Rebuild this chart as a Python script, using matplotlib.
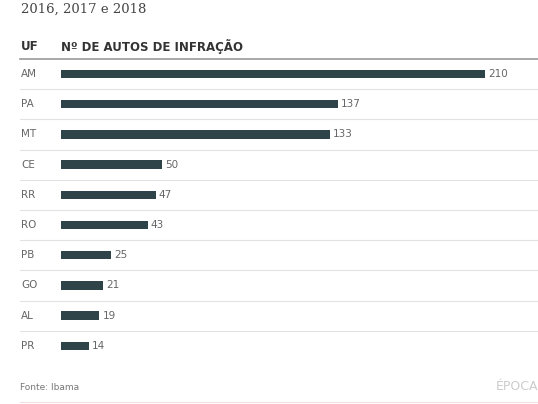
import matplotlib.pyplot as plt
from matplotlib import transforms

# dados
estados = ['AM', 'PA', 'MT', 'CE', 'RR', 'RO', 'PB', 'GO', 'AL', 'PR']
autos = [210, 137, 133, 50, 47, 43, 25, 21, 19, 14]

titulo = '2016, 2017 e 2018'
cab_uf = 'UF'
cab_valor = 'Nº DE AUTOS DE INFRAÇÃO'
fonte = 'Fonte: Ibama'
marca = 'ÉPOCA'

W, H = 538, 404
fig = plt.figure(figsize=(W / 100, H / 100), dpi=100)
ax = fig.add_axes([0, 0, 1, 1])

# escala: 1 auto = px_por_unidade pixels, barras começam em x=61px
px_por_unidade = 2.019
x0_px = 61
linha0_px, passo_px = 74, 30.2
ax.set_xlim(-x0_px / px_por_unidade, (W - x0_px) / px_por_unidade)
ax.set_ylim((H - linha0_px) / passo_px, -linha0_px / passo_px)
ax.axis('off')

cor_barra = '#2e4449'
cor_texto = '#666666'
pos = list(range(len(estados)))

ax.barh(pos, autos, height=0.28, color=cor_barra, left=0)
for i, v in zip(pos, autos):
    ax.text(v + 1.5, i, str(v), va='center', ha='left', fontsize=7.5, color=cor_texto)

mix = transforms.blended_transform_factory(fig.transFigure, ax.transData)
for i, uf in zip(pos, estados):
    ax.text(21 / W, i, uf, transform=mix, va='center', ha='left', fontsize=7.5, color=cor_texto)

# linhas separadoras
for i in pos[:-1]:
    ax.plot([20 / W, 1], [i + 0.5, i + 0.5], transform=mix, color='#e2e2e2', lw=0.8)

# cabeçalho
fig.text(21 / W, 1 - 9 / H, titulo, fontsize=9.5, family='DejaVu Serif', color='#444444', va='center')
fig.text(21 / W, 1 - 46 / H, cab_uf, fontsize=8.5, fontweight='bold', color='#333333', va='center')
fig.text(61 / W, 1 - 46 / H, cab_valor, fontsize=8.5, fontweight='bold', color='#333333', va='center')
fig.add_artist(plt.Line2D([20 / W, 1], [1 - 59 / H, 1 - 59 / H], color='#9a9a9a', lw=1.2))

# rodapé
fig.text(20 / W, 1 - 388 / H, fonte, fontsize=6.5, color='#777777', va='center')
fig.text(1.0, 1 - 386 / H, marca, fontsize=9, color='#cccccc', va='center', ha='right')
fig.add_artist(plt.Line2D([20 / W, 1], [1 - 401.5 / H, 1 - 401.5 / H], color='#f6dede', lw=0.8))

fig.savefig('out.png', dpi=100)
